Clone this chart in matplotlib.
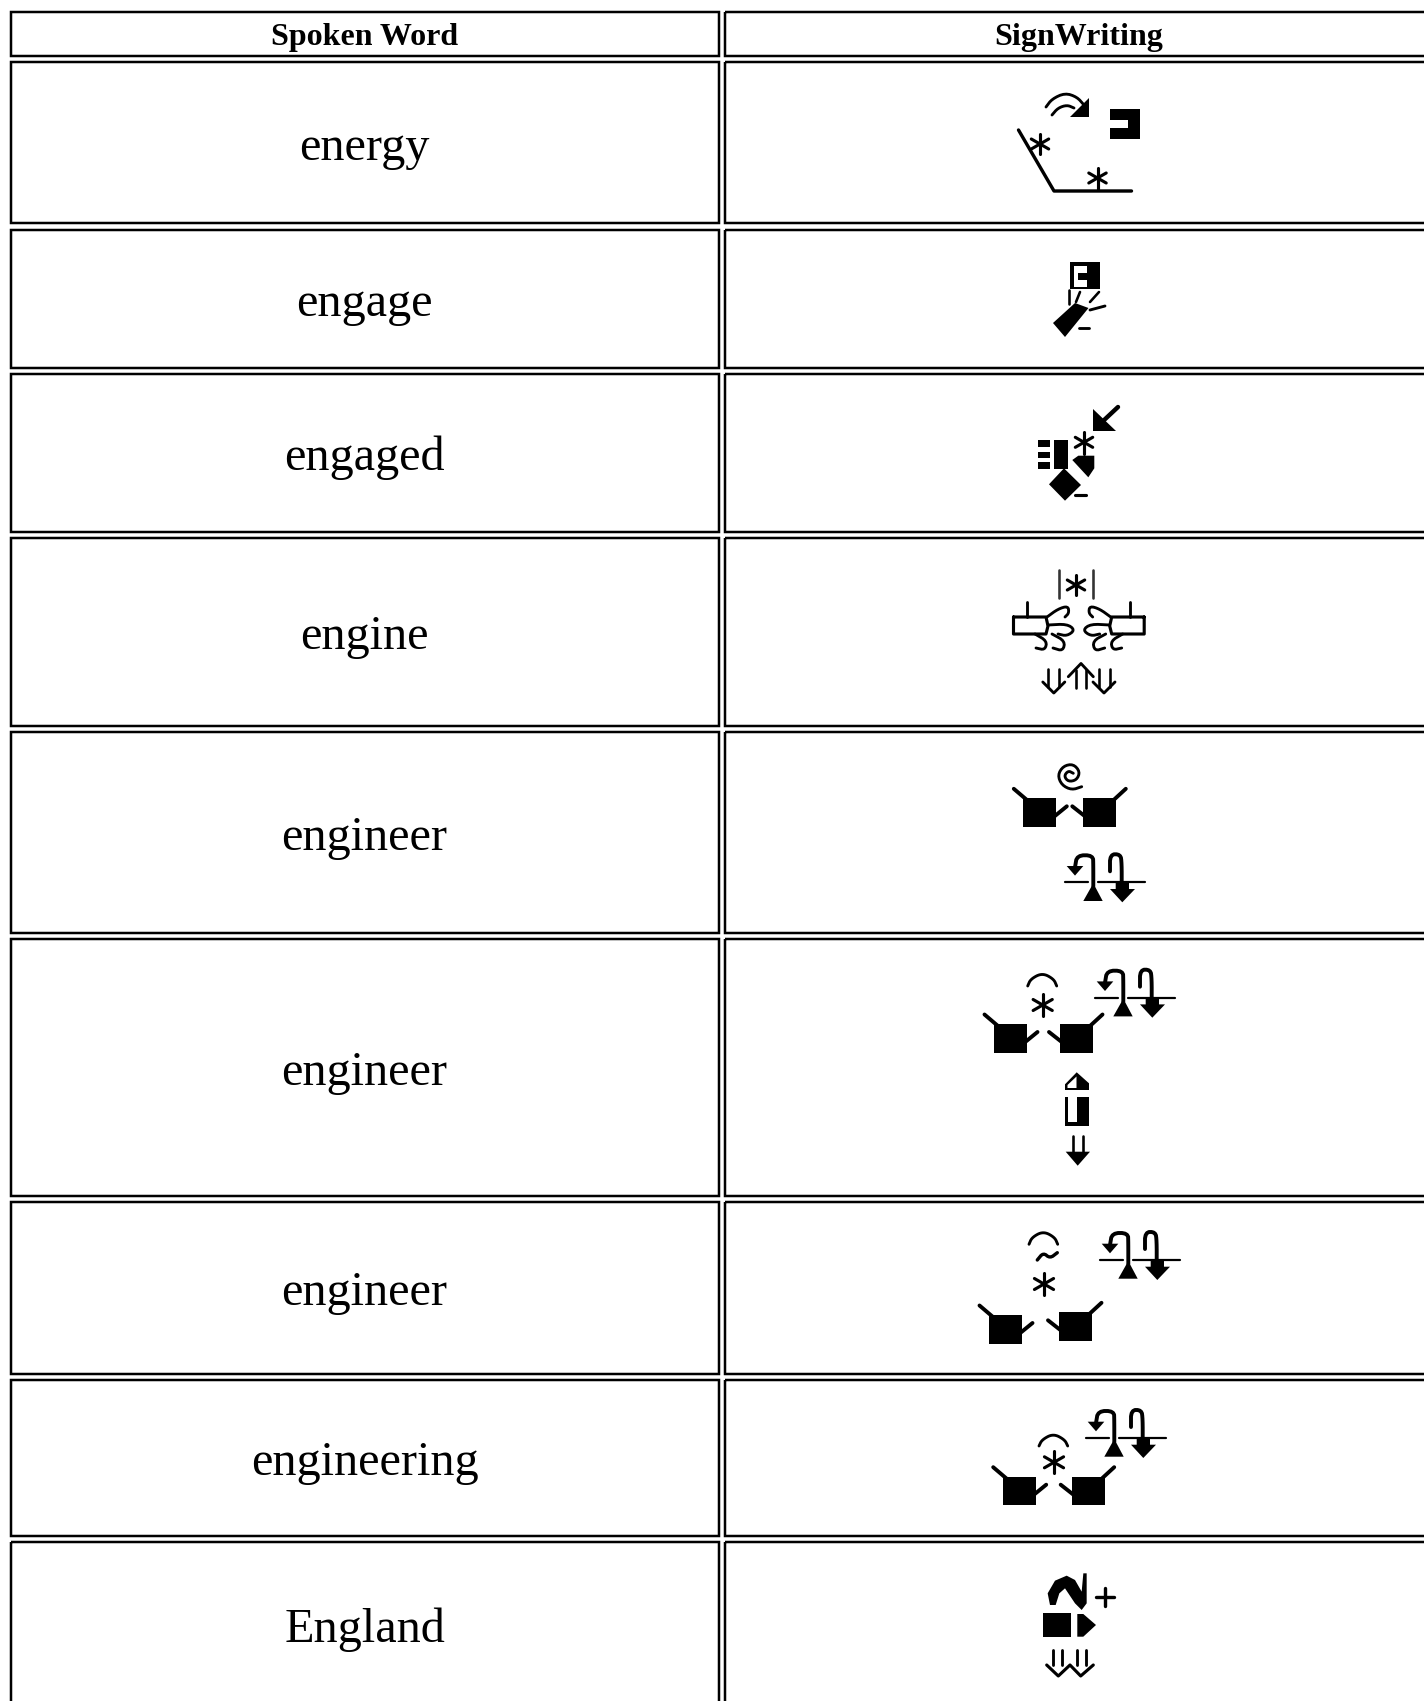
import matplotlib
matplotlib.use("Agg")
import numpy as np
import matplotlib.pyplot as plt
from matplotlib.patches import Rectangle, Polygon

headers = ["Spoken Word", "SignWriting"]
words = ["energy", "engage", "engaged", "engine", "engineer", "engineer",
         "engineer", "engineering", "England"]

# table geometry in reference pixels
W, H = 1424, 1701
row_top = [12, 62, 230, 374, 538, 732, 939, 1202, 1380, 1542]
row_bot = [56, 223.5, 368, 532, 726, 933, 1196, 1374, 1535.5, 1720]
col_left = [11, 725]
col_right = [719, 1440]
col_mid = [364.5, 1079]

PX = 0.72  # 1 px in points at dpi 100

fig = plt.figure(figsize=(W / 100, H / 100), dpi=100)
ax = fig.add_axes([0, 0, 1, 1])
ax.set_xlim(0, W)
ax.set_ylim(H, 0)
ax.axis("off")


def line(pts, lw=2.0, color="black", smooth=0):
    pts = np.array(pts, dtype=float)
    for _ in range(smooth):
        q = 0.75 * pts[:-1] + 0.25 * pts[1:]
        r = 0.25 * pts[:-1] + 0.75 * pts[1:]
        mid = np.empty((len(q) * 2, 2))
        mid[0::2] = q
        mid[1::2] = r
        pts = np.vstack([pts[0], mid, pts[-1]])
    ax.plot(pts[:, 0], pts[:, 1], color=color, lw=lw * 1.3 * PX,
            solid_capstyle="round", solid_joinstyle="round")


def fill(pts, color="black"):
    ax.add_patch(Polygon(pts, closed=True, fc=color, ec="none"))


def box(x0, y0, x1, y1, color="black"):
    ax.add_patch(Rectangle((x0, y0), x1 - x0, y1 - y0, fc=color, ec="none"))


def star(x, y, r=11, stem=0):
    a = r * 0.87
    b = r * 0.5
    line([(x, y - r), (x, y + r + stem)], 2.4)
    line([(x - a, y - b), (x + a, y + b)], 2.4)
    line([(x - a, y + b), (x + a, y - b)], 2.4)


def arc(x0, xm, x1, ybase, ytop):
    line([(x0, ybase), (x0 + 3, ytop + 4), (xm, ytop - 2), (x1 - 3, ytop + 4), (x1, ybase)], 2.2, smooth=3)


def hand_pair(x1, y1, x2, y2):
    # black squares with a long stroke outside and a thumb inside
    w, h = 33, 28.5
    box(x1, y1, x1 + w, y1 + h)
    line([(x1 - 9.5, y1 - 9.5), (x1 + 4, y1 + 2)], 3)
    line([(x1 + w - 3, y1 + 19), (x1 + w + 10.5, y1 + 8)], 3)
    box(x2, y2, x2 + w, y2 + h)
    line([(x2 + w - 3, y2 + 2), (x2 + w + 9.5, y2 - 9.5)], 3)
    line([(x2 + 3, y2 + 19), (x2 - 11, y2 + 8)], 3)


def flow(x, y):
    # two hooked arrows across a floor line
    line([(x, y), (x + 23, y)], 1.7)
    line([(x + 33, y), (x + 80, y)], 1.7)
    fill([(x + 18.3, y + 18.7), (x + 37.7, y + 18.7), (x + 28.3, y + 1)])
    line([(x + 28.3, y + 4), (x + 28.3, y - 17), (x + 28, y - 27), (x + 12, y - 27), (x + 10, y - 15)], 3, smooth=2)
    fill([(x + 1.7, y - 16.3), (x + 18.3, y - 16.3), (x + 10, y - 6.7)])
    line([(x + 56.7, y + 4), (x + 56.7, y - 19), (x + 55.5, y - 28), (x + 45, y - 28), (x + 45, y - 11)], 3, smooth=2)
    fill([(x + 50.7, y - 0.7), (x + 64, y - 0.7), (x + 64, y + 6.7), (x + 70, y + 6.7),
          (x + 57.3, y + 20), (x + 45, y + 6.7), (x + 50.7, y + 6.7)])


def curls(sgn):
    # row 4 hand, sgn=1 left side, sgn=-1 mirrored about the glyph centre
    c = 1078.85
    def m(p):
        return [(c + sgn * (x - c), y) for x, y in p]
    line(m([(1013.5, 617), (1046, 617), (1048, 626), (1046, 634), (1013.5, 634), (1013.5, 617)]), 2.4)
    line(m([(1027.3, 601.7), (1027.3, 617)]), 2.2)
    line(m([(1047, 617), (1058, 609), (1068, 606), (1069, 613), (1065, 617)]), 2.2, smooth=2)
    line(m([(1048, 625), (1067, 624), (1075, 630), (1067, 636), (1058, 634)]), 2.2, smooth=2)
    line(m([(1035, 634), (1047, 641), (1045, 650), (1036, 648)]), 2.2, smooth=2)
    line(m([(1052, 634), (1065, 641), (1063, 651), (1053, 648)]), 2.2, smooth=2)


def draw_energy():
    line([(1018.5, 130), (1054, 191), (1131.5, 191)], 2.6)
    star(1040, 144, 10)
    star(1097.5, 178, 10, stem=2)
    line([(1046, 107), (1052, 99), (1065, 93), (1077, 97), (1084, 105)], 2.2, smooth=2)
    line([(1052, 115), (1058, 108), (1067, 105), (1074, 108)], 2.2, smooth=2)
    fill([(1088.5, 98), (1088.5, 117), (1070, 117)])
    box(1110, 109, 1140, 139)
    box(1110, 120, 1127.5, 128, "white")


def draw_engage():
    box(1070, 262, 1100, 289)
    box(1074, 266, 1086.5, 287, "white")
    box(1077.5, 272.7, 1086.5, 280)
    line([(1069, 290), (1069, 304)], 2)
    line([(1080, 292), (1076, 302)], 2)
    line([(1099, 292), (1090, 302)], 2)
    fill([(1075, 303), (1088.5, 308), (1065, 337), (1053, 323)])
    line([(1090, 310), (1105, 306)], 2.2)
    line([(1079, 328), (1089, 328)], 2.2)


def draw_engaged():
    line([(1118, 407), (1102, 422)], 3.4)
    fill([(1093.3, 409.3), (1093.3, 430.7), (1115.7, 430.7)])
    star(1084, 442.3, 10, stem=2)
    box(1038, 440, 1050, 447.3)
    box(1038, 451.7, 1050, 458.3)
    box(1038, 462.3, 1050, 469.3)
    box(1054.3, 440, 1068.3, 469)
    fill([(1072.3, 460), (1078.3, 455.7), (1094.3, 455.7), (1094.3, 468.3), (1088.3, 477.3)])
    fill([(1064, 468.3), (1081, 485), (1065, 500.7), (1049, 484.3)])
    line([(1075, 495), (1085.7, 495)], 2.4)


def draw_engine():
    line([(1059, 570), (1059, 598)], 2, color="#333333")
    line([(1092.7, 570), (1092.7, 598)], 2, color="#333333")
    star(1076, 585, 10)
    curls(1)
    curls(-1)
    for xc in (1053.8, 1104):
        line([(xc - 5.5, 669), (xc - 5.5, 687)], 2)
        line([(xc + 5.5, 669), (xc + 5.5, 687)], 2)
        line([(xc - 11, 682), (xc, 693), (xc + 11, 682)], 2.2)
    line([(1068.3, 676.7), (1081, 663.5), (1093.3, 676.7)], 2.2)
    line([(1075.5, 670), (1075.5, 688)], 2)
    line([(1085.5, 670), (1085.5, 688)], 2)


def draw_engineer_1():
    spiral = [(1081.7, 786.7), (1071.7, 790), (1061.7, 785), (1057.7, 775), (1063.3, 766),
              (1073.3, 764), (1080, 771.7), (1076.7, 780), (1068.3, 781.7), (1064, 776),
              (1068.3, 770.7), (1073.3, 773.3)]
    line(spiral, 2.2, smooth=2)
    hand_pair(1023.3, 798.3, 1083.3, 798.3)
    flow(1065, 882.3)


def draw_engineer_2():
    arc(1027.7, 1042.3, 1056.7, 986, 975)
    star(1042.7, 1005)
    hand_pair(994, 1024, 1060, 1024)
    flow(1095, 997.7)
    fill([(1076.7, 1072.3), (1089, 1083.3), (1089, 1090), (1065, 1090), (1065, 1084.3)])
    fill([(1067.5, 1085), (1076.5, 1076.5), (1076.5, 1088), (1067.5, 1088)], "white")
    box(1065, 1097.3, 1089, 1125.7)
    box(1068.3, 1097.3, 1077.3, 1121.7, "white")
    line([(1073.3, 1135.7), (1073.3, 1153)], 2)
    line([(1083.3, 1135.7), (1083.3, 1153)], 2)
    fill([(1065.7, 1151.7), (1090, 1151.7), (1077.7, 1165.7)])


def draw_engineer_3():
    arc(1029, 1043.3, 1057.7, 1244.3, 1233.3)
    line([(1037.3, 1260), (1043.3, 1252.7), (1050, 1258.3), (1057.3, 1252.7)], 2.6, smooth=2)
    star(1044, 1284)
    hand_pair(989, 1315, 1059, 1312.3)
    flow(1100, 1260)


def draw_engineering():
    arc(1039, 1053.3, 1067.7, 1446, 1435.7)
    star(1054, 1462.3)
    hand_pair(1002.7, 1476.7, 1071.7, 1476.7)
    flow(1086, 1438)


def draw_england():
    hook = [(150, 135), (143, 100), (165, 62), (200, 47), (225, 60), (245, 95), (250, 40), (260, 40),
            (260, 130), (245, 150), (225, 130), (195, 85), (178, 100), (167, 135)]
    fill([(1000 + x / 3, 1560 + y / 3) for x, y in hook])
    line([(1096, 1597.3), (1114, 1597.3)], 2.6)
    line([(1105, 1588.3), (1105, 1606.3)], 2.6)
    box(1043.3, 1613.3, 1070.7, 1636.7)
    fill([(1077.3, 1614), (1083.3, 1614), (1096, 1625), (1083.3, 1636.7), (1077.3, 1636.7)])
    for xs in (1053.3, 1061.7, 1076.7, 1086):
        line([(xs, 1650), (xs, 1665)], 2.2)
    line([(1046.7, 1665), (1058.3, 1676), (1070, 1665), (1080.7, 1676), (1093.3, 1665)], 2.4)


glyphs = [draw_energy, draw_engage, draw_engaged, draw_engine, draw_engineer_1,
          draw_engineer_2, draw_engineer_3, draw_engineering, draw_england]

# cell borders
for top, bot in zip(row_top, row_bot):
    for x0, x1 in zip(col_left, col_right):
        ax.add_patch(Rectangle((x0, top), x1 - x0, bot - top, fc="none", ec="black", lw=2.5 * PX))

for x, label in zip(col_mid, headers):
    ax.text(x, 45, label, ha="center", va="baseline", family="Liberation Serif",
            fontweight="bold", fontsize=32 * PX)

for top, bot, word in zip(row_top[1:], row_bot[1:], words):
    bot = min(bot, 1707)
    ax.text(col_mid[0], (top + bot) / 2 + 17, word, ha="center", va="baseline",
            family="Liberation Serif", fontsize=48.3 * PX)

for g in glyphs:
    g()

fig.savefig("out.png", dpi=100, facecolor="white")
